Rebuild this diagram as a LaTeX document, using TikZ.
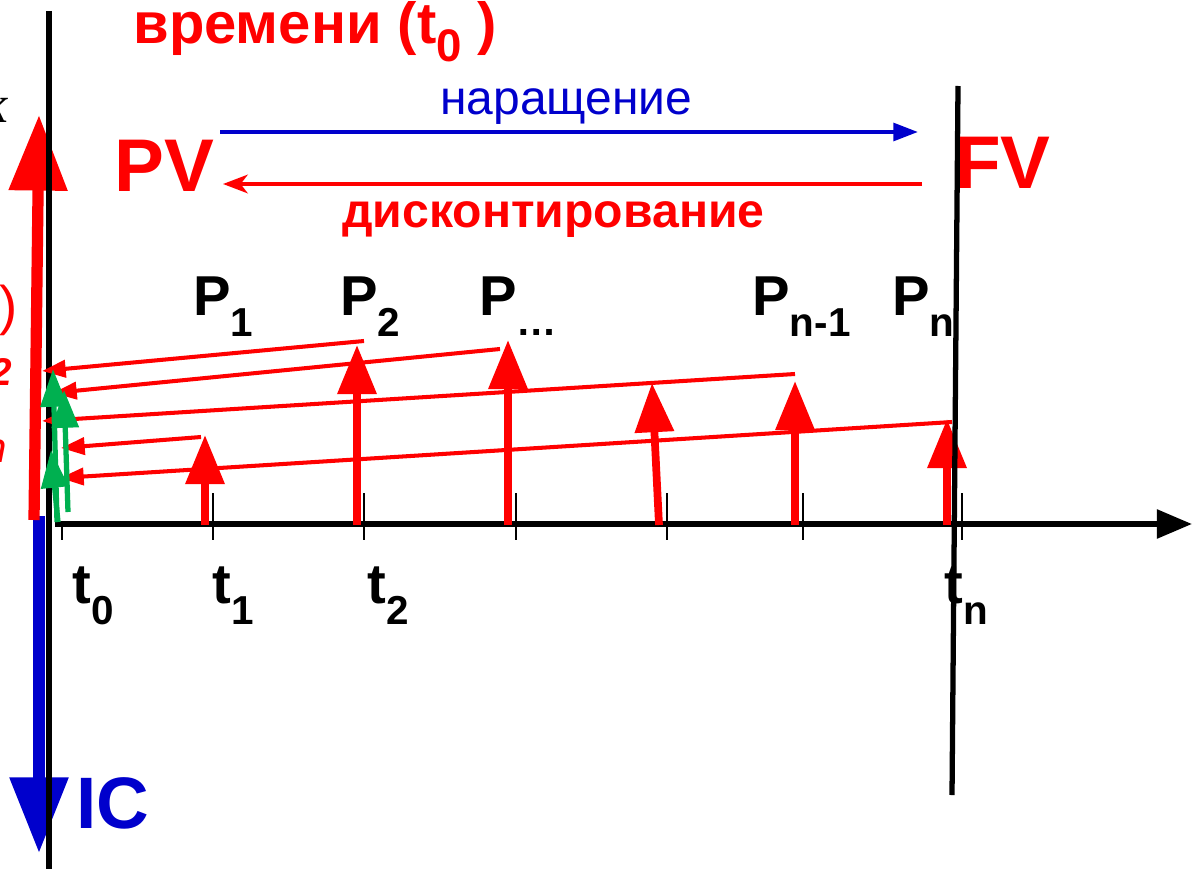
\documentclass[tikz,border=0pt]{standalone}
\usepackage{fontspec}
\setmainfont{Liberation Sans}
\newfontfamily\serifit{Liberation Serif}
\usetikzlibrary{arrows.meta}
\definecolor{myblue}{HTML}{0000CC}
\definecolor{mygreen}{HTML}{00B050}
\newcommand{\subsz}{\fontsize{23}{23}\selectfont}
\begin{document}
\begin{tikzpicture}[x=0.02cm,y=-0.02cm,
  txt/.style={inner sep=0pt,anchor=base west},
  lbl/.style={txt,font=\fontsize{32}{36}\selectfont\bfseries},
  pay/.style={draw=red,line width=4.4pt,-{Triangle[length=28pt,width=21.5pt]}},
  disc/.style={draw=red,line width=2.3pt,-{Triangle[length=13.5pt,width=9.7pt]}},
  grn/.style={draw=mygreen,line width=3pt,-{Triangle[length=21.5pt,width=15pt]}},
  bigarr/.style={line width=6.4pt,-{Triangle[length=43pt,width=32pt]}},
  vline/.style={draw=black,line width=3pt},
  tickm/.style={draw=black,line width=0.85pt},
]
\useasboundingbox (0,0) rectangle (1192,868);
\clip (0,0) rectangle (1192,868);

% clipped fragments at the left edge
\node[inner sep=0pt,anchor=base east,font=\fontsize{30}{32}\selectfont\serifit\itshape] (frk) at (9,123) {к};
\node[inner sep=0pt,anchor=base east,red,font=\fontsize{31}{34}\selectfont] (frp) at (18,324) {)};
\node[inner sep=0pt,anchor=base east,red,font=\fontsize{22}{26}\selectfont\bfseries\itshape] (fr2) at (12,385) {2};
\node[inner sep=0pt,anchor=base east,red,font=\fontsize{24}{26}\selectfont\itshape] (frn) at (7,462) {n};

% big left arrows
\coordinate (icA) at (39,516); \coordinate (icB) at (39,853);
\draw[bigarr,draw=myblue] (icA) -- (icB);
\coordinate (pvA) at (34,520); \coordinate (pvB) at (39,115);
\draw[bigarr,draw=red] (pvA) -- (pvB);

% left vertical line
\coordinate (vl1) at (49,11); \coordinate (vl2) at (49,875);
\draw[vline] (vl1) -- (vl2);

% time axis
\coordinate (ax0) at (55,524); \coordinate (ax1) at (1192,524);
\draw[black,line width=3.1pt,-{Triangle[length=20pt,width=16pt]}] (ax0) -- (ax1);
\coordinate (tk0a) at (62,524); \coordinate (tk0b) at (62,540);
\draw[tickm] (tk0a) -- (tk0b);
\foreach \x/\n in {213/1,364/2,516/3,667/4,803/5,962/6}{
  \coordinate (tk\n a) at (\x,493); \coordinate (tk\n b) at (\x,540);
  \draw[tickm] (tk\n a) -- (tk\n b);
}

% payments
\coordinate (b1) at (205,525); \coordinate (h1) at (205,435);
\coordinate (b2) at (357,525); \coordinate (h2) at (357,345);
\coordinate (b3) at (508,525); \coordinate (h3) at (508,340);
\coordinate (b4) at (659,525); \coordinate (h4) at (652,383);
\coordinate (b5) at (795,525); \coordinate (h5) at (795,381);
\coordinate (b6) at (947,525); \coordinate (h6) at (947,419);
\foreach \i in {1,...,6}{\draw[pay] (b\i) -- (h\i);}

% discounting lines
\coordinate (d1s) at (364,341); \coordinate (d1e) at (42,371);
\coordinate (d2s) at (500,349); \coordinate (d2e) at (53,393);
\coordinate (d3s) at (795,374); \coordinate (d3e) at (42,421);
\coordinate (d4s) at (201,437); \coordinate (d4e) at (61,448);
\coordinate (d5s) at (952,422); \coordinate (d5e) at (60,478);
\foreach \i in {1,...,5}{\draw[disc] (d\i s) -- (d\i e);}

% green arrows
\coordinate (g1a) at (57,522); \coordinate (g1b) at (53,369);
\coordinate (g2a) at (68,512); \coordinate (g2b) at (64,390);
\coordinate (g3a) at (58,522); \coordinate (g3b) at (51,450);
\foreach \i in {1,2,3}{\draw[grn] (g\i a) -- (g\i b);}

% right vertical line
\coordinate (vr1) at (958,86); \coordinate (vr2) at (952,795);
\draw[vline] (vr1) -- (vr2);

% PV / FV arrows
\coordinate (na) at (220,132); \coordinate (nb) at (918,132);
\draw[myblue,line width=2.3pt,-{Triangle[length=14pt,width=10pt]}] (na) -- (nb);
\coordinate (da) at (922,184); \coordinate (db) at (223,184);
\draw[red,line width=2.3pt,-{Stealth[length=14pt,width=10.5pt,inset=4pt]}] (da) -- (db);

% texts
\node[txt,red,font=\fontsize{33}{36}\selectfont\bfseries] (vrem) at (133,44) {времени (t\raisebox{-10pt}{\fontsize{26}{26}\selectfont 0} )};
\node[txt,red,font=\fontsize{42.5}{45}\selectfont\bfseries] (pv) at (114,192) {PV};
\node[txt,red,font=\fontsize{42.5}{45}\selectfont\bfseries] (fv) at (955,189) {FV};
\node[txt,myblue,font=\fontsize{27.3}{30}\selectfont] (nar) at (440,115) {наращение};
\node[txt,red,font=\fontsize{27.4}{30}\selectfont\bfseries] (disk) at (342,227) {дисконтирование};

\node[lbl] (p1) at (193,315) {P\raisebox{-12.5pt}{\subsz 1}};
\node[lbl] (p2) at (340,315) {P\raisebox{-12.5pt}{\subsz 2}};
\node[lbl] (p3) at (479,315) {P\raisebox{-11.5pt}{\subsz …}};
\node[lbl] (p5) at (752,315) {P\raisebox{-12.5pt}{\subsz n-1}};
\node[lbl] (p6) at (892,315) {P\raisebox{-12.5pt}{\subsz n}};

\node[lbl] (t0) at (72,603) {t\raisebox{-12.5pt}{\subsz 0}};
\node[lbl] (t1) at (212,603) {t\raisebox{-12.5pt}{\subsz 1}};
\node[lbl] (t2) at (367,603) {t\raisebox{-12.5pt}{\subsz 2}};
\node[lbl] (tn) at (944,603) {t\raisebox{-12.5pt}{\subsz n}};

\node[txt,myblue,font=\fontsize{41.5}{44}\selectfont\bfseries] (ic) at (76,828) {IC};
\end{tikzpicture}
\end{document}
